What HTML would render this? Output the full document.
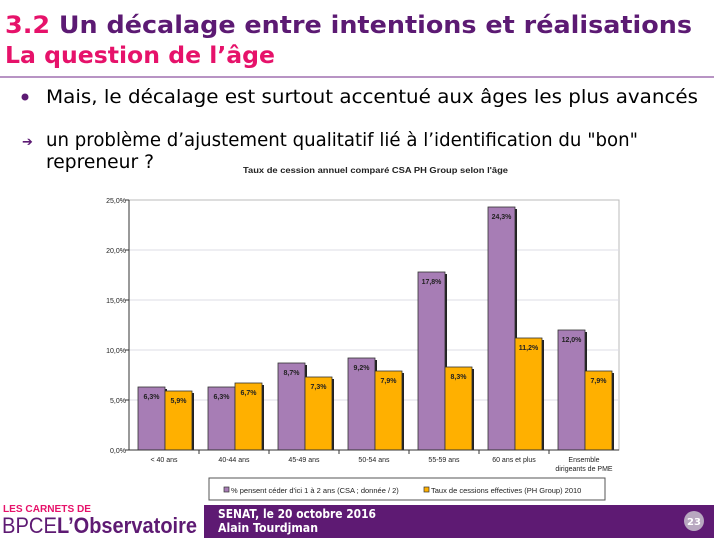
<!DOCTYPE html>
<html><head><meta charset="utf-8"><style>
body{margin:0;width:714px;height:538px;overflow:hidden;background:#fff}
svg{display:block}
text{font-family:"DejaVu Sans","Liberation Sans",sans-serif}
.c{font-family:"Liberation Sans",sans-serif}
</style></head><body>
<svg width="714" height="538">
<text x="5" y="33" font-size="24" font-weight="bold" fill="#5c1a73" textLength="687" lengthAdjust="spacingAndGlyphs"><tspan fill="#e6126a">3.2</tspan> Un décalage entre intentions et réalisations</text>
<text x="5" y="63" font-size="23" font-weight="bold" fill="#e6126a" textLength="270" lengthAdjust="spacingAndGlyphs">La question de l’âge</text>
<line x1="0" y1="77" x2="714" y2="77" stroke="#a070b0" stroke-width="1.5"/>
<circle cx="25" cy="97" r="3.5" fill="#5c1a73"/>
<text x="46" y="103" font-size="19" fill="#000" textLength="652" lengthAdjust="spacingAndGlyphs">Mais, le décalage est surtout accentué aux âges les plus avancés</text>
<text x="22" y="146" font-size="13" font-weight="bold" fill="#5c1a73">➔</text>
<text x="46" y="146" font-size="19" fill="#000" textLength="592" lengthAdjust="spacingAndGlyphs">un problème d’ajustement qualitatif lié à l’identification du "bon"</text>
<text x="46" y="168" font-size="19" fill="#000" textLength="108" lengthAdjust="spacingAndGlyphs">repreneur ?</text>
<text class="c" x="243" y="173" font-size="8" font-weight="bold" fill="#222" textLength="265" lengthAdjust="spacingAndGlyphs">Taux de cession annuel comparé CSA PH Group selon l'âge</text>
<g id="chart"></g>
<rect x="209" y="478" width="396" height="22" fill="#fff" stroke="#555"/>
<rect x="224" y="487" width="5" height="5" fill="#a77db5" stroke="#333" stroke-width="0.7"/>
<text class="c" x="231" y="493" font-size="7.5" fill="#222">% pensent céder d'ici 1 à 2 ans (CSA ; donnée / 2)</text>
<rect x="424" y="487" width="5" height="5" fill="#ffb000" stroke="#333" stroke-width="0.7"/>
<text class="c" x="431" y="493" font-size="7.5" fill="#222">Taux de cessions effectives (PH Group) 2010</text>
<rect x="204" y="505" width="510" height="33" fill="#5e1a73"/>
<text x="218" y="518" font-size="12" font-weight="bold" fill="#fff" textLength="158" lengthAdjust="spacingAndGlyphs">SENAT, le 20 octobre 2016</text>
<text x="218" y="532" font-size="12" font-weight="bold" fill="#fff" textLength="100" lengthAdjust="spacingAndGlyphs">Alain Tourdjman</text>
<circle cx="694" cy="521" r="10" fill="#b8a8c0"/>
<text x="694" y="525" font-size="10" font-weight="bold" fill="#fff" text-anchor="middle">23</text>
<text class="c" x="3" y="512" font-size="10" font-weight="bold" fill="#e6126a" textLength="88" lengthAdjust="spacingAndGlyphs">LES CARNETS DE</text>
<text class="c" x="2" y="533" font-size="22" fill="#5e1a73" textLength="55" lengthAdjust="spacingAndGlyphs">BPCE</text>
<text class="c" x="57" y="533" font-size="22" font-weight="bold" fill="#5e1a73" textLength="140" lengthAdjust="spacingAndGlyphs">L’Observatoire</text>
</svg>
<script>
const categories=["< 40 ans","40-44 ans","45-49 ans","50-54 ans","55-59 ans","60 ans et plus","Ensemble|dirigeants de PME"];
const csaValues=[6.3,6.3,8.7,9.2,17.8,24.3,12.0];
const phValues=[5.9,6.7,7.3,7.9,8.3,11.2,7.9];
const yTicks=[0,5,10,15,20,25];
const yTickLabels=["0,0%","5,0%","10,0%","15,0%","20,0%","25,0%"];
const L=129,R=619,T=200,B=450,yMax=25;
const NS="http://www.w3.org/2000/svg";
const g=document.getElementById('chart');
function y(v){return B-(v/yMax)*(B-T);}
const cw=(R-L)/categories.length;
function x(i){return L+i*cw;}
function mk(t,a){const e=document.createElementNS(NS,t);for(const k in a)e.setAttribute(k,a[k]);g.appendChild(e);return e;}
function fmt(v){return v.toFixed(1).replace('.',',')+'%';}
const frame=mk('rect',{x:L,y:T,width:R-L,height:B-T,fill:'#fff',stroke:'#bbb'});


yTicks.forEach((t,i)=>{
  if(t>0&&t<yMax){const gl=mk('line',{x1:L,x2:R,y1:y(t),y2:y(t),stroke:'#dcdce6','stroke-width':1});
  
  }
  const tk=mk('line',{x1:L-4,x2:L,y1:y(t),y2:y(t),stroke:'#333'});
  
  
  const lb=mk('text',{x:L-3,y:y(t)+3,'font-size':7,'text-anchor':'end',fill:'#222',class:'c'});
  lb.textContent=yTickLabels[i];
  
  
});
const bw=27;
categories.forEach((c,i)=>{
  const x0=x(i)+9;
  [[csaValues[i],'#a77db5','bar-csa'],[phValues[i],'#ffb000','bar-ph']].forEach((s,j)=>{
    const bx=x0+j*bw,by=y(s[0]),bh=B-by;
    const sh=mk('rect',{x:bx+2,y:by+2,width:bw,height:bh-2,fill:'#222'});
    
    
    const r=mk('rect',{x:bx,y:by,width:bw,height:bh,fill:s[1],stroke:'#333','stroke-width':0.8});
    
    
    const t=mk('text',{x:bx+bw/2,y:by+12,'font-size':7,'font-weight':'bold','text-anchor':'middle',fill:'#222',class:'c'});
    t.textContent=fmt(s[0]);
    
    
  });
  if(i>0){const tk=mk('line',{x1:x(i),x2:x(i),y1:B,y2:B+4,stroke:'#333'});
  
  }
  c.split('|').forEach((ln,k)=>{
    const t=mk('text',{x:x(i)+cw/2,y:B+12+k*9,'font-size':7,'text-anchor':'middle',fill:'#222',class:'c'});
    t.textContent=ln;
    
    
  });
});
const ax=mk('line',{x1:L,x2:L,y1:T,y2:B,stroke:'#333'});


const bx=mk('line',{x1:L-4,x2:R,y1:B,y2:B,stroke:'#333'});


</script>
</body></html>
